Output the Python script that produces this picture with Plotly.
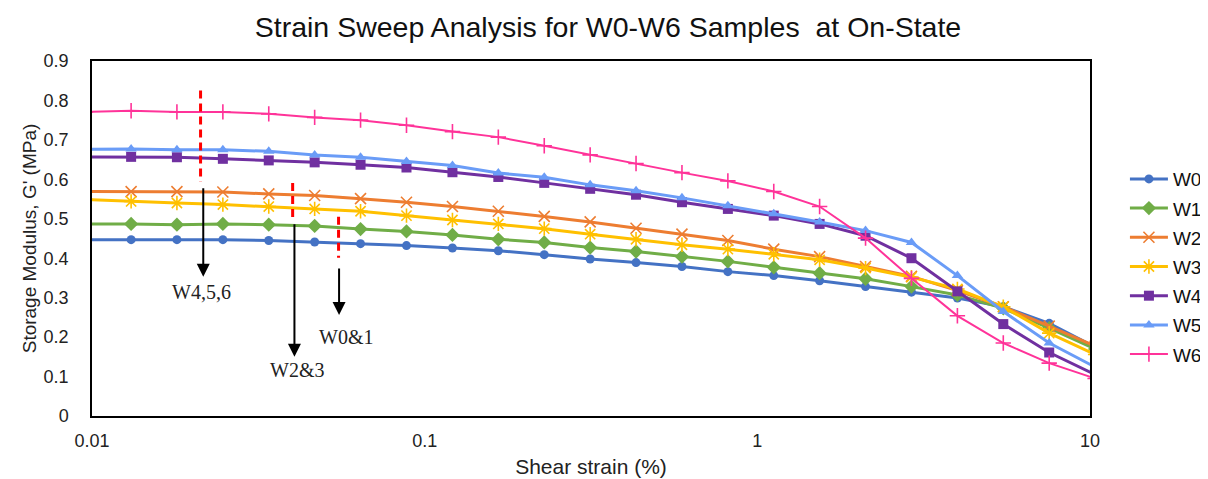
import numpy as np
import plotly.graph_objects as go

# shear strain (%), same grid for every sample
strain = [0.00954, 0.01311, 0.01800, 0.02474, 0.03399, 0.04670, 0.06416, 0.08818,
          0.1212, 0.1665, 0.2288, 0.3144, 0.4319, 0.5935, 0.8155, 1.1205,
          1.539, 2.115, 2.906, 3.994, 5.487, 7.540, 10.36]

# storage modulus G' (MPa)
w0 = [0.447, 0.447, 0.447, 0.447, 0.445, 0.441, 0.437, 0.432, 0.426, 0.419, 0.409, 0.398,
      0.389, 0.379, 0.366, 0.356, 0.343, 0.328, 0.314, 0.299, 0.277, 0.235, 0.175]
w1 = [0.487, 0.487, 0.485, 0.487, 0.485, 0.482, 0.474, 0.468, 0.459, 0.448, 0.440, 0.427,
      0.417, 0.404, 0.392, 0.377, 0.362, 0.348, 0.328, 0.307, 0.273, 0.223, 0.170]
w2 = [0.569, 0.569, 0.569, 0.568, 0.563, 0.559, 0.551, 0.542, 0.531, 0.519, 0.506, 0.492,
      0.476, 0.461, 0.445, 0.423, 0.404, 0.379, 0.354, 0.318, 0.277, 0.228, 0.177]
w3 = [0.549, 0.544, 0.540, 0.536, 0.531, 0.525, 0.519, 0.508, 0.497, 0.487, 0.475, 0.461,
      0.448, 0.434, 0.423, 0.410, 0.396, 0.375, 0.352, 0.322, 0.277, 0.210, 0.156]
w4 = [0.657, 0.657, 0.656, 0.652, 0.648, 0.643, 0.637, 0.630, 0.618, 0.606, 0.591, 0.576,
      0.561, 0.542, 0.525, 0.508, 0.487, 0.457, 0.400, 0.316, 0.233, 0.161, 0.105]
w5 = [0.676, 0.677, 0.675, 0.675, 0.671, 0.662, 0.656, 0.645, 0.635, 0.616, 0.605, 0.586,
      0.571, 0.553, 0.533, 0.513, 0.492, 0.470, 0.440, 0.356, 0.265, 0.185, 0.124]
w6 = [0.771, 0.774, 0.771, 0.771, 0.766, 0.757, 0.750, 0.737, 0.721, 0.707, 0.685, 0.662,
      0.640, 0.617, 0.596, 0.569, 0.531, 0.451, 0.349, 0.254, 0.185, 0.134, 0.095]

names = ["W0", "W1", "W2", "W3", "W4", "W5", "W6"]
values = [w0, w1, w2, w3, w4, w5, w6]
colors = ["#4472C4", "#70AD47", "#ED7D31", "#FFC000", "#7030A0", "#6A9CF7", "#FF3399"]
symbols = ["circle", "diamond", "x-thin-open", "asterisk-open", "square", "triangle-up", "cross-thin-open"]
msizes = [9, 11, 11, 12, 10, 10, 11]

# critical strain markers (red dashed) and arrows
crit_x = [0.0212, 0.0401, 0.0551]
crit_y0 = [0.825, 0.591, 0.505]
crit_y1 = [0.594, 0.497, 0.401]
arrow_x = [0.0216, 0.0406, 0.0553]
arrow_top = [0.581, 0.490, 0.378]
arrow_tip = [0.353, 0.150, 0.256]
label_text = ["W4,5,6", "W2&3", "W0&1"]
label_x = [0.0213, 0.0412, 0.0580]
label_y = [0.315, 0.117, 0.200]

fig = go.Figure()

for i, name in enumerate(names):
    line_sym = symbols[i].endswith("open")
    fig.add_trace(
        go.Scatter(
            x=strain,
            y=values[i],
            name=name,
            legendgroup=name,
            mode="lines+markers",
            line=dict(color=colors[i], width=2 if name == "W6" else 3),
            marker=dict(
                symbol=symbols[i],
                size=msizes[i],
                color=colors[i],
                line=dict(color=colors[i], width=1.6 if line_sym else 0)
            )
        )
    )

for i in range(len(crit_x)):
    fig.add_trace(
        go.Scatter(
            x=[crit_x[i], crit_x[i]],
            y=[crit_y0[i], crit_y1[i]],
            mode="lines",
            line=dict(color="#FF0000", width=3, dash="8px,5px"),
            showlegend=False,
            hoverinfo="skip"
        )
    )

for i in range(len(arrow_x)):
    fig.add_annotation(
        x=np.log10(arrow_x[i]), y=arrow_tip[i],
        ax=np.log10(arrow_x[i]), ay=arrow_top[i],
        xref="x", yref="y", axref="x", ayref="y",
        text="", showarrow=True,
        arrowhead=2, arrowsize=1.3, arrowwidth=2, arrowcolor="black"
    )
    fig.add_annotation(
        x=np.log10(label_x[i]), y=label_y[i],
        xref="x", yref="y",
        text=label_text[i], showarrow=False,
        font=dict(family="Liberation Serif, Times New Roman, serif", size=20, color="#222222")
    )

# the page body keeps an 8px margin, so the figure is 8px smaller each way
fig.update_layout(
    width=1200,
    height=471,
    paper_bgcolor="white",
    plot_bgcolor="white",
    margin=dict(l=84, r=118, t=53, b=63, autoexpand=False),
    font=dict(family="Liberation Sans, Arial, sans-serif", color="#222222"),
    title=dict(
        text="Strain Sweep Analysis for W0-W6 Samples  at On-State",
        x=0.5, xanchor="center", xref="container",
        y=1 - 19 / 471, yanchor="middle",
        font=dict(size=28.5, color="#111111")
    ),
    legend=dict(
        x=1.035, xanchor="left", y=0.721, yanchor="top",
        font=dict(size=19, color="#111111"),
        tracegroupgap=1.5,
        itemwidth=38,
        bgcolor="rgba(0,0,0,0)"
    ),
    showlegend=True
)

fig.update_xaxes(
    type="log",
    range=[-2, 1],
    tickvals=[0.01, 0.1, 1, 10],
    ticktext=["0.01", "0.1", "1", "10"],
    showgrid=False,
    zeroline=False,
    showline=True, linecolor="black", linewidth=1.5, mirror=True,
    ticks="", ticklabelstandoff=8,
    tickfont=dict(size=18),
    automargin=False,
    title=dict(text="Shear strain (%)", font=dict(size=21), standoff=9)
)

fig.update_yaxes(
    range=[0, 0.9],
    tickvals=[0, 0.1, 0.2, 0.3, 0.4, 0.5, 0.6, 0.7, 0.8, 0.9],
    ticktext=["0", "0.1", "0.2", "0.3", "0.4", "0.5", "0.6", "0.7", "0.8", "0.9"],
    showgrid=False,
    zeroline=False,
    showline=True, linecolor="black", linewidth=1.5, mirror=True,
    ticks="", ticklabelstandoff=18,
    tickfont=dict(size=18),
    automargin=False,
    title=dict(text="Storage Modulus, G' (MPa)", font=dict(size=19), standoff=2)
)

fig.write_html("out.html")
